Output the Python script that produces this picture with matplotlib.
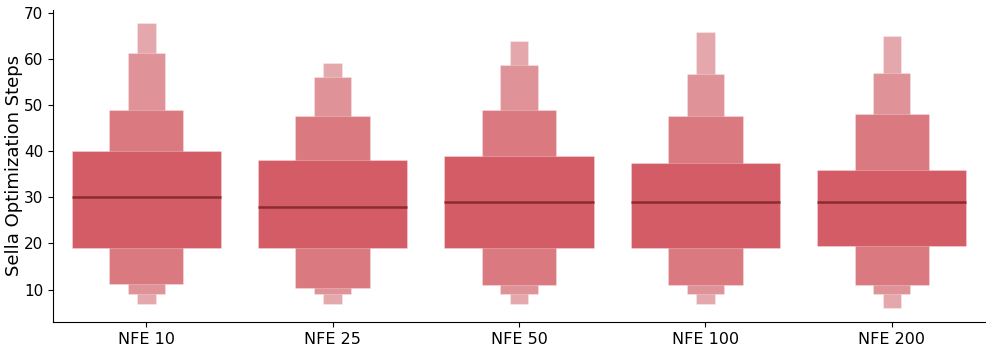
import matplotlib
matplotlib.use("Agg")
import matplotlib.pyplot as plt
import numpy as np

categories = ["NFE 10", "NFE 25", "NFE 50", "NFE 100", "NFE 200"]
medians = [30.0, 28.0, 29.0, 29.0, 29.0]
# letter-value boxes: (lower, upper) for levels 1..4 (inner to outer)
lv1_low = [19.0, 19.0, 19.0, 19.0, 19.5]
lv1_high = [40.0, 38.0, 39.0, 37.5, 36.0]
lv2_low = [11.2, 10.3, 11.0, 11.0, 11.0]
lv2_high = [48.8, 47.7, 49.0, 47.7, 48.0]
lv3_low = [9.0, 9.0, 9.0, 9.0, 9.0]
lv3_high = [61.3, 56.0, 58.6, 56.6, 56.9]
lv4_low = [7.0, 7.0, 7.0, 7.0, 6.1]
lv4_high = [67.8, 59.0, 63.9, 65.8, 64.9]

level_colors = ["#d45c66", "#da7980", "#df9398", "#e4a8ac"]
level_widths = [0.8, 0.4, 0.2, 0.1]
median_color = "#8c2b31"

fig = plt.figure(figsize=(9.96, 3.52), dpi=100)
ax = fig.add_axes([0.0532, 0.0844, 0.9358, 0.8886])

x = np.arange(len(categories))
levels = [(lv4_low, lv4_high), (lv3_low, lv3_high), (lv2_low, lv2_high), (lv1_low, lv1_high)]
for i, (lo, hi) in enumerate(levels):
    k = 3 - i
    lo = np.array(lo)
    hi = np.array(hi)
    ax.bar(x, hi - lo, bottom=lo, width=level_widths[k], color=level_colors[k],
           edgecolor=(1, 1, 1, 0.25), linewidth=0.8, zorder=2 + i)

for xi, m in zip(x, medians):
    ax.plot([xi - 0.4, xi + 0.4], [m, m], color=median_color, lw=1.8, zorder=10,
            solid_capstyle="butt")

ax.set_xlim(-0.5, 4.5)
ax.set_ylim(2.94, 70.65)
ax.set_yticks([10, 20, 30, 40, 50, 60, 70])
ax.set_xticks(x)
ax.set_xticklabels(categories, fontsize=11.5)
ax.tick_params(axis="y", labelsize=11)
ax.set_ylabel("Sella Optimization Steps", fontsize=13, labelpad=1)
ax.spines["top"].set_visible(False)
ax.spines["right"].set_visible(False)

fig.savefig("out.png", dpi=100)
